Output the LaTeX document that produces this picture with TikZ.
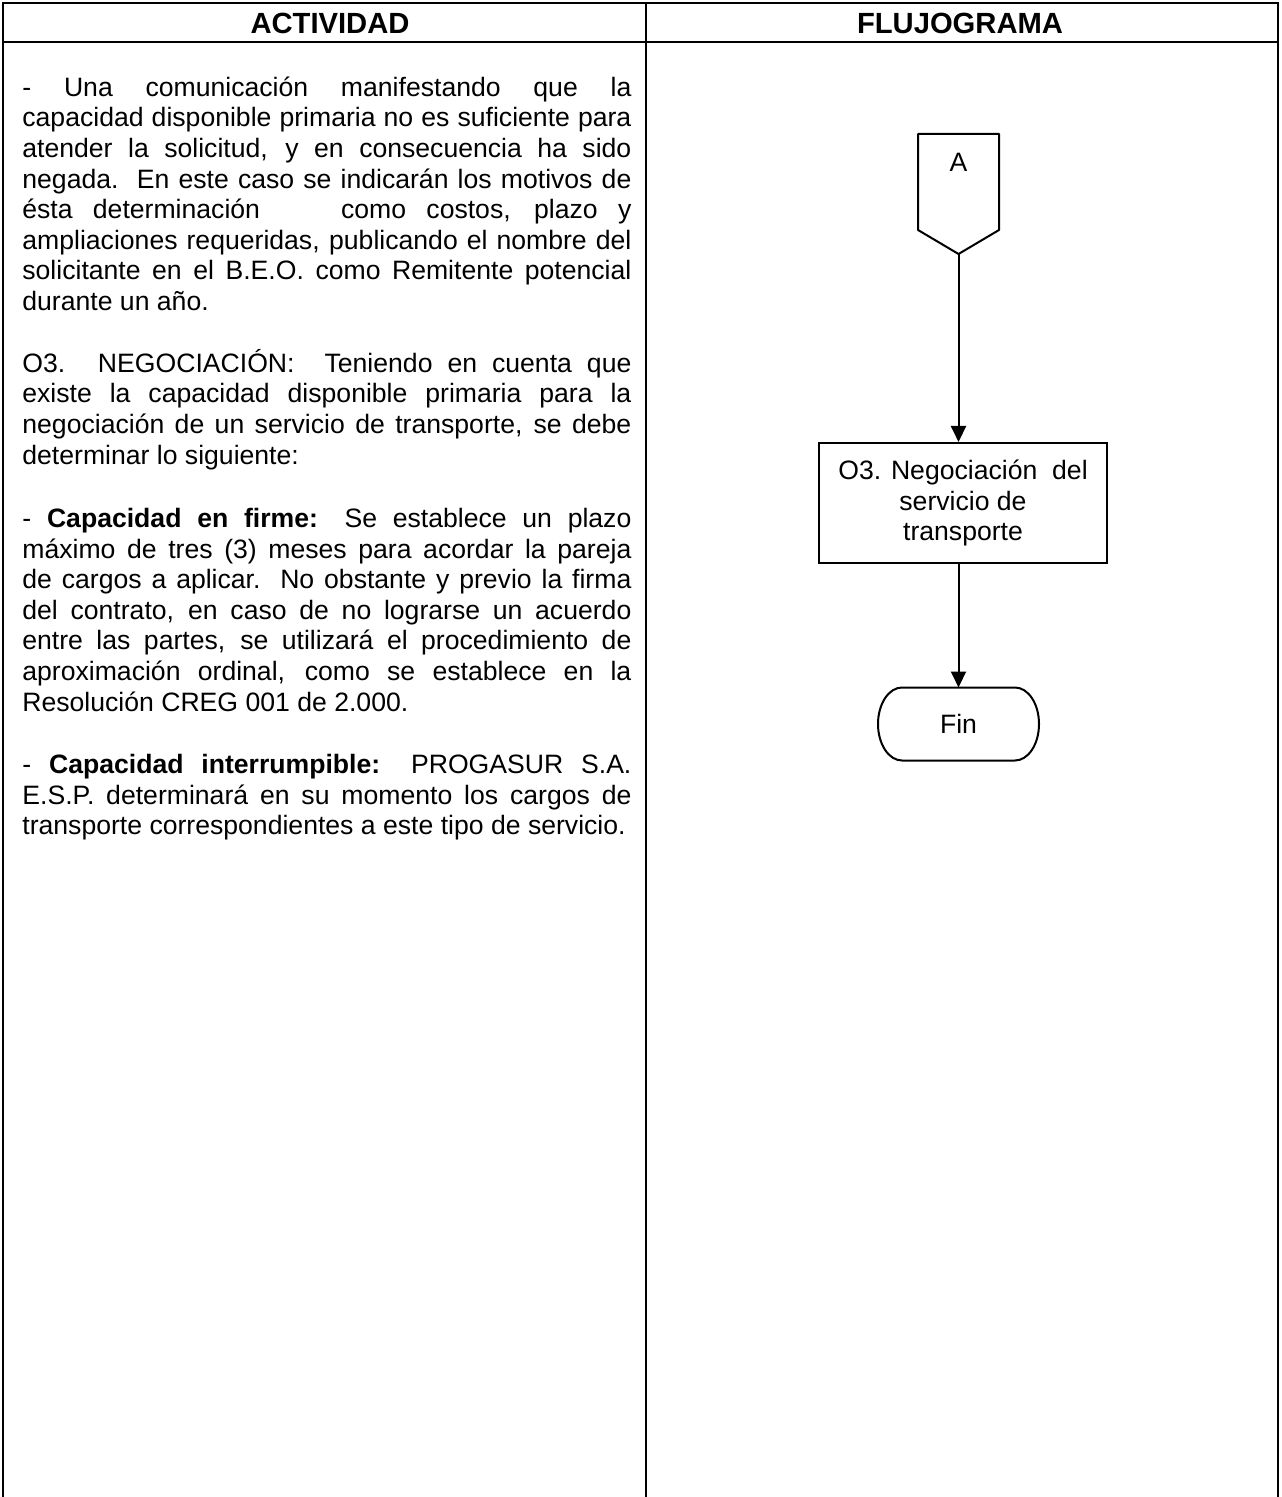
\documentclass[tikz,border=0pt]{standalone}
\usepackage{fontspec}
\setmainfont{Liberation Sans}
\usetikzlibrary{positioning, arrows.meta, shapes.misc}
\newcommand{\inicio}{\rule{0pt}{13pt}}
\tikzset{
x=0.5pt, y=-0.5pt, % one unit per pixel of the page, y runs downwards
>={Triangle[length=8pt,width=7.5pt]}, % solid arrow heads
cell/.style={line width=1.1pt}, % rules of the table
head/.style={font=\fontsize{14.6}{17}\selectfont\bfseries}, % column titles
texto/.style={anchor=north west, inner sep=0pt, text width=304.5pt, align=justify, font=\fontsize{13.3}{15.3}\selectfont},
proceso/.style={draw, line width=1pt, minimum width=144pt, minimum height=60pt, align=center, font=\fontsize{13.3}{15.3}\selectfont},
terminal/.style={inner sep=0pt, outer sep=0pt, minimum width=80.5pt, minimum height=36.5pt, font=\fontsize{13.3}{15.3}\selectfont},
conector/.style={anchor=north, inner sep=0pt, outer sep=0pt, minimum width=40.5pt, text height=18.75pt, text depth=29.25pt, font=\fontsize{13.3}{15.3}\selectfont},
linea/.style={line width=1pt, line join=round},
flecha/.style={->, line width=1pt},
}
\begin{document}
\begin{tikzpicture}
\useasboundingbox (0,0) rectangle (1281,1497);

% table
\draw[cell] (3,1497) -- (3,3) -- (1278,3) -- (1278,1497);
\draw[cell] (3,42) -- (1278,42);
\draw[cell] (646,3) -- (646,1497);
\node[head] (act) at (330,23) {ACTIVIDAD};
\node[head] (flu) at (960,23) {FLUJOGRAMA};

% actividad
\node[texto] (com) at (22,70) {\inicio- Una comunicación manifestando que la\linebreak
capacidad disponible primaria no es suficiente para\linebreak
atender la solicitud, y en consecuencia ha sido\linebreak
negada.\ \ En este caso se indicarán los motivos de\linebreak
ésta determinación\ \ \ \ como costos, plazo y\linebreak
ampliaciones requeridas, publicando el nombre del\linebreak
solicitante en el B.E.O. como Remitente potencial\linebreak
durante un año.};
\node[texto] (neg) at (22,346) {\inicio O3. NEGOCIACIÓN:\ \ Teniendo en cuenta que\linebreak
existe la capacidad disponible primaria para la\linebreak
negociación de un servicio de transporte, se debe\linebreak
determinar lo siguiente:};
\node[texto] (firme) at (22,501) {\inicio- \textbf{Capacidad en firme:} Se establece un plazo\linebreak
máximo de tres (3) meses para acordar la pareja\linebreak
de cargos a aplicar.\ \ No obstante y previo la firma\linebreak
del contrato, en caso de no lograrse un acuerdo\linebreak
entre las partes, se utilizará el procedimiento de\linebreak
aproximación ordinal, como se establece en la\linebreak
Resolución CREG 001 de 2.000.};
\node[texto] (interr) at (22,747) {\inicio- \textbf{Capacidad interrumpible:} PROGASUR S.A.\linebreak
E.S.P. determinará en su momento los cargos de\linebreak
transporte correspondientes a este tipo de servicio.};

% flujograma
\node[conector] (conA) at (958.5,134) {A};
\draw[linea] (conA.north west) -- (conA.north east) -- (conA.south east)
    -- ([yshift=-12pt]conA.south) -- (conA.south west) -- cycle;
\coordinate (tipA) at ([yshift=-12pt]conA.south);
\node[proceso] (neg3) at (963,503) {O3. Negociación\ \ del\\servicio de\\transporte};
\node[terminal] (fin) at (958.5,724) {Fin};
\draw[linea] ([xshift=12pt]fin.north west) -- ([xshift=-12pt]fin.north east)
    arc[start angle=90, end angle=-90, x radius=12pt, y radius=18.25pt]
    -- ([xshift=12pt]fin.south west)
    arc[start angle=270, end angle=90, x radius=12pt, y radius=18.25pt] -- cycle;

\draw[flecha] (tipA) -- (tipA |- neg3.north);
\draw[flecha] (fin.north |- neg3.south) -- (fin.north);
\end{tikzpicture}
\end{document}
